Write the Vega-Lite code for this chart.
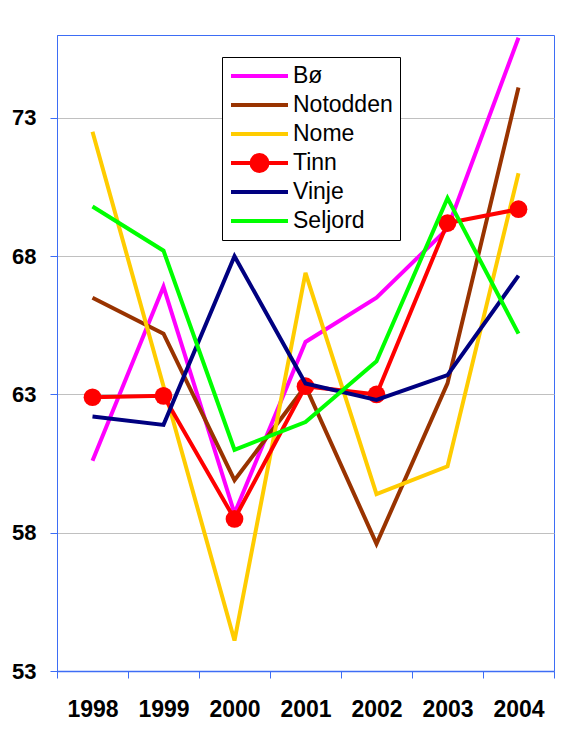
{
  "$schema": "https://vega.github.io/schema/vega-lite/v6.json",
  "autosize": {"type": "none"},
  "padding": {"left": 57, "top": 35, "right": 15, "bottom": 73},
  "width": 497,
  "height": 636,
  "background": "white",
  "data": {"values": [
    {"year": "1998", "kommune": "Bø", "value": 60.6},
    {"year": "1999", "kommune": "Bø", "value": 66.9},
    {"year": "2000", "kommune": "Bø", "value": 58.7},
    {"year": "2001", "kommune": "Bø", "value": 64.9},
    {"year": "2002", "kommune": "Bø", "value": 66.5},
    {"year": "2003", "kommune": "Bø", "value": 69.0},
    {"year": "2004", "kommune": "Bø", "value": 75.9},
    {"year": "1998", "kommune": "Notodden", "value": 66.5},
    {"year": "1999", "kommune": "Notodden", "value": 65.2},
    {"year": "2000", "kommune": "Notodden", "value": 59.9},
    {"year": "2001", "kommune": "Notodden", "value": 63.3},
    {"year": "2002", "kommune": "Notodden", "value": 57.6},
    {"year": "2003", "kommune": "Notodden", "value": 63.4},
    {"year": "2004", "kommune": "Notodden", "value": 74.1},
    {"year": "1998", "kommune": "Nome", "value": 72.5},
    {"year": "1999", "kommune": "Nome", "value": 63.3},
    {"year": "2000", "kommune": "Nome", "value": 54.1},
    {"year": "2001", "kommune": "Nome", "value": 67.4},
    {"year": "2002", "kommune": "Nome", "value": 59.4},
    {"year": "2003", "kommune": "Nome", "value": 60.4},
    {"year": "2004", "kommune": "Nome", "value": 71.0},
    {"year": "1998", "kommune": "Tinn", "value": 62.9},
    {"year": "1999", "kommune": "Tinn", "value": 62.95},
    {"year": "2000", "kommune": "Tinn", "value": 58.5},
    {"year": "2001", "kommune": "Tinn", "value": 63.3},
    {"year": "2002", "kommune": "Tinn", "value": 63.0},
    {"year": "2003", "kommune": "Tinn", "value": 69.2},
    {"year": "2004", "kommune": "Tinn", "value": 69.7},
    {"year": "1998", "kommune": "Vinje", "value": 62.2},
    {"year": "1999", "kommune": "Vinje", "value": 61.9},
    {"year": "2000", "kommune": "Vinje", "value": 68.0},
    {"year": "2001", "kommune": "Vinje", "value": 63.4},
    {"year": "2002", "kommune": "Vinje", "value": 62.8},
    {"year": "2003", "kommune": "Vinje", "value": 63.7},
    {"year": "2004", "kommune": "Vinje", "value": 67.3},
    {"year": "1998", "kommune": "Seljord", "value": 69.8},
    {"year": "1999", "kommune": "Seljord", "value": 68.2},
    {"year": "2000", "kommune": "Seljord", "value": 61.0},
    {"year": "2001", "kommune": "Seljord", "value": 62.0},
    {"year": "2002", "kommune": "Seljord", "value": 64.2},
    {"year": "2003", "kommune": "Seljord", "value": 70.1},
    {"year": "2004", "kommune": "Seljord", "value": 65.2}
  ]},
  "encoding": {
    "x": {
      "field": "year", "type": "ordinal", "bandPosition": 0.5,
      "scale": {"type": "band", "paddingInner": 0, "paddingOuter": 0},
      "axis": {
        "title": null, "labelAngle": 0, "tickBand": "extent",
        "labelFont": "Liberation Sans", "labelFontSize": 23, "labelFontWeight": "bold",
        "labelColor": "black", "labelPadding": 20,
        "domainColor": "#3d6df5", "domainWidth": 1.5,
        "tickColor": "#3d6df5", "tickSize": 7, "tickWidth": 1, "grid": false
      }
    },
    "y": {
      "field": "value", "type": "quantitative",
      "scale": {"domain": [53, 76], "nice": false, "zero": false},
      "axis": {
        "title": null, "values": [53, 58, 63, 68, 73],
        "labelFont": "Liberation Sans", "labelFontSize": 22, "labelFontWeight": "bold",
        "labelColor": "black", "labelPadding": 14,
        "domainColor": "#3d6df5", "domainWidth": 1,
        "tickColor": "#3d6df5", "tickSize": 7, "tickWidth": 1,
        "grid": true, "gridColor": "#c0c0c0", "gridWidth": 1
      }
    },
    "color": {
      "field": "kommune", "type": "nominal",
      "scale": {
        "domain": ["Bø", "Notodden", "Nome", "Tinn", "Vinje", "Seljord"],
        "range": ["#ff00ff", "#993300", "#ffcc00", "#ff0000", "#000080", "#00ff00"]
      },
      "legend": {
        "title": null, "orient": "none", "legendX": 165, "legendY": 22,
        "strokeColor": "black", "fillColor": "white", "padding": 7,
        "labelFont": "Liberation Sans", "labelFontSize": 23, "labelColor": "black",
        "labelLimit": 0, "labelOffset": 3, "rowPadding": 5, "clipHeight": 24,
        "symbolType": "stroke", "symbolSize": 3249, "symbolStrokeWidth": 4, "symbolOffset": 0,
        "encode": {
          "symbols": {
            "update": {
              "shape": {"signal": "datum.value === 'Tinn' ? 'M-1,0L1,0M-0.28,0A0.28,0.28,0,1,0,0.28,0A0.28,0.28,0,1,0,-0.28,0Z' : 'stroke'"},
              "fill": {"signal": "datum.value === 'Tinn' ? '#ff0000' : 'transparent'"},
              "size": {"value": 3249},
              "opacity": {"value": 1}
            }
          }
        }
      }
    }
  },
  "layer": [
    {
      "transform": [{"filter": "datum.kommune === 'Bø' || datum.kommune === 'Notodden' || datum.kommune === 'Nome' || datum.kommune === 'Tinn'"}],
      "mark": {"type": "line", "strokeWidth": 4}
    },
    {
      "transform": [{"filter": "datum.kommune === 'Tinn'"}],
      "mark": {"type": "point", "filled": true, "size": 314, "opacity": 1, "shape": "circle"}
    },
    {
      "transform": [{"filter": "datum.kommune === 'Vinje' || datum.kommune === 'Seljord'"}],
      "mark": {"type": "line", "strokeWidth": 4}
    }
  ],
  "config": {
    "view": {"stroke": "#3d6df5", "strokeWidth": 1},
    "font": "Liberation Sans"
  }
}
